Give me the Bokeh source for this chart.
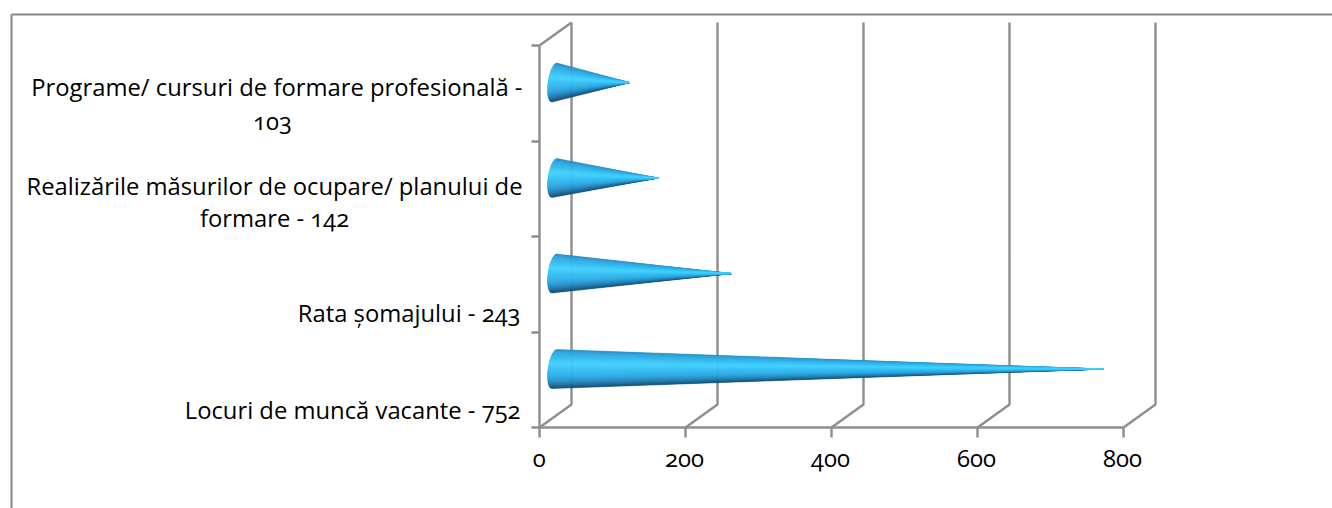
from bokeh.plotting import figure
from bokeh.models import LinearAxis, FixedTicker, Range1d, ColumnDataSource
from bokeh.core.properties import value
from bokeh.embed import file_html
from bokeh.resources import INLINE

categories = ["Locuri de muncă vacante", "Rata șomajului",
              "Realizările măsurilor de ocupare/ planului de formare",
              "Programe/ cursuri de formare profesională"]
values = [752, 243, 142, 103]
x_ticks = [0, 200, 400, 600, 800]
label_lines = [["Locuri de muncă vacante - 752"], ["Rata șomajului - 243"],
               ["Realizările măsurilor de ocupare/ planului de", "formare - 142"],
               ["Programe/ cursuri de formare profesională -", "103"]]

W, H = 1332, 508
X0_PX, PX_PER_X = 539.0, 0.73
Y0_PX, PX_PER_Y = 427.0, 95.5
DEPTH_X = 32 / PX_PER_X
DEPTH_Y = 23 / PX_PER_Y
GRAY = "#8E8E8E"
LW = 2.4
FONT = "Open Sans"
FS = "23.8px"

def fx(px): return (px - X0_PX) / PX_PER_X
def fy(py): return (Y0_PX - py) / PX_PER_Y

p = figure(width=W, height=H, output_backend="svg", toolbar_location=None,
           x_range=Range1d(fx(0), fx(W)), y_range=Range1d(fy(H), fy(0)),
           x_axis_type=None, y_axis_type=None, min_border=0, outline_line_color=None)
p.grid.visible = False
p.stylesheets = [":host { font-feature-settings: 'onum' 1; }"]

# chart border
p.line([fx(11), fx(11)], [fy(H), fy(14)], line_color="#868686", line_width=2)
p.line([fx(11), fx(W)], [fy(14), fy(14)], line_color="#868686", line_width=2)

# back wall, floor lines and side wall
n_cat = len(categories)
for t in x_ticks:
    p.line([t, t + DEPTH_X, t + DEPTH_X], [0, DEPTH_Y, n_cat + DEPTH_Y], line_color=GRAY, line_width=LW)
p.line([0, DEPTH_X], [n_cat, n_cat + DEPTH_Y], line_color=GRAY, line_width=LW)

# cones
BRIGHT = 0.36
stops = [(0.00, (35, 135, 190)), (0.08, (42, 165, 222)), (BRIGHT, (64, 208, 255)),
         (0.72, (42, 165, 225)), (0.88, (30, 120, 170)), (1.00, (14, 70, 105))]
def color(f):
    for (a, ca), (b, cb) in zip(stops, stops[1:]):
        if f <= b:
            k = (f - a) / (b - a)
            return "#%02x%02x%02x" % tuple(round(u + (v - u) * k) for u, v in zip(ca, cb))
    return "#0e4669"

R_PX, A_PX, TILT_PX, N = 19.5, 6.5, 2.5, 48
order = sorted(range(N), key=lambda s: -abs((s + 0.5) / N - BRIGHT))
xs, ys, cs = [], [], []
for i, v in enumerate(values):
    cx = 15 / PX_PER_X
    cy = i + 0.5 + (DEPTH_Y / 2) - 0.8 / PX_PER_Y
    tip = v + cx
    for s in order:
        ts = [-1 + 2 * s / N, -1 + 2 * (s + 1) / N]
        ex = [cx + (-A_PX * (1 - t * t) ** 0.5 - TILT_PX * t) / PX_PER_X for t in ts]
        ey = [cy - R_PX * t / PX_PER_Y for t in ts]
        xs.append([ex[0], ex[1], tip])
        ys.append([ey[0], ey[1], cy])
        cs.append(color((s + 0.5) / N))
p.patches(xs, ys, fill_color=cs, line_color=cs, line_width=0.5)

# real axes, fixed inside the frame
xaxis = LinearAxis(fixed_location=0, ticker=FixedTicker(ticks=x_ticks), bounds=(0, 800))
xaxis.axis_line_color = GRAY
xaxis.axis_line_width = LW
xaxis.major_tick_line_color = GRAY
xaxis.major_tick_line_width = LW
xaxis.major_tick_in = 0
xaxis.major_tick_out = 10
xaxis.minor_tick_line_color = None
xaxis.major_label_text_font = FONT
xaxis.major_label_text_font_size = FS
xaxis.major_label_text_color = "#000000"
xaxis.major_label_standoff = 12
p.add_layout(xaxis, "below")

yaxis = LinearAxis(fixed_location=0, ticker=FixedTicker(ticks=list(range(n_cat + 1))), bounds=(0, n_cat))
yaxis.axis_line_color = GRAY
yaxis.axis_line_width = LW
yaxis.major_tick_line_color = GRAY
yaxis.major_tick_line_width = LW
yaxis.major_tick_in = 0
yaxis.major_tick_out = 8
yaxis.minor_tick_line_color = None
yaxis.major_label_text_color = None
p.add_layout(yaxis, "left")

# category labels
label_px = [(409.5, [522]), (312.5, [522]), (185.5, [522]), (86.5, [522])]
second_px = {2: (217.5, 275), 3: (120.5, 273)}
tx, ty, tt, ta = [], [], [], []
for i, lines in enumerate(label_lines):
    py, [rx] = label_px[i]
    tx.append(fx(rx)); ty.append(fy(py)); tt.append(lines[0]); ta.append("right")
    if len(lines) > 1:
        py2, cx2 = second_px[i]
        tx.append(fx(cx2)); ty.append(fy(py2)); tt.append(lines[1]); ta.append("center")
src = ColumnDataSource(dict(x=tx, y=ty, text=tt, align=ta))
p.text("x", "y", text="text", source=src, text_align="align", text_baseline="middle",
       text_font=value(FONT), text_font_size=value(FS), text_color="#000000")

open("out.html", "w").write(file_html(p, INLINE))
